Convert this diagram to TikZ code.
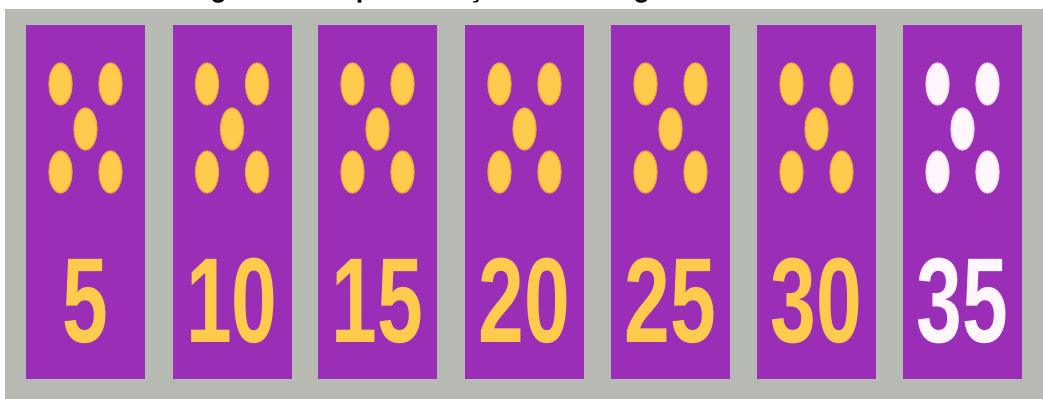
\documentclass[tikz,border=0pt]{standalone}
\usepackage{fontspec}
\setmainfont{Liberation Sans}
\usetikzlibrary{positioning,shapes.geometric}
\definecolor{Fundo}{HTML}{B7BAB3}
\definecolor{Roxo}{HTML}{9A2EB6}
\definecolor{Ouro}{HTML}{FFCB4C}
\definecolor{OuroBorda}{HTML}{F0A43E}
\definecolor{Neve}{HTML}{FFF7FB}
\definecolor{NeveBorda}{HTML}{E6D2EC}
\tikzset{
  cartao/.style={fill=Roxo, minimum width=29.75mm, minimum height=88.5mm, inner sep=0pt},
  ponto/.style={ellipse, line width=0.3mm, minimum width=5.75mm, minimum height=10.5mm, inner sep=0pt},
  numero/.style={font=\fontsize{86}{86}\selectfont\bfseries, inner sep=0pt},
  titulo/.style={font=\fontsize{19.2}{22}\selectfont\bfseries, inner sep=0pt},
}

\begin{document}
\begin{tikzpicture}[x=0.25mm, y=-0.25mm]
  \useasboundingbox (0,0) rectangle (1043,399);
  \clip (0,0) rectangle (1043,399);
  \fill[white] (0,0) rectangle (1043,399);
  \fill[Fundo] (5,9) rectangle (1043,399);
  % title, cut by the top edge
  \node[titulo, anchor=base] (titulo) at (503,-2.5) {Figura 6 – Representação da contagem de 5 em 5};
  % the seven cards
  \foreach \cx/\valor/\cor/\borda [count=\n] in {85.5/5/Ouro/OuroBorda, 232/10/Ouro/OuroBorda,
      377.5/15/Ouro/OuroBorda, 524.5/20/Ouro/OuroBorda, 670.5/25/Ouro/OuroBorda,
      816.5/30/Ouro/OuroBorda, 962.5/35/Neve/NeveBorda}{
    \node[cartao] (cartao\n) at (\cx,202) {};
    \node[ponto, fill=\cor, draw=\borda] (p\n a) at ({\cx-25},84) {};
    \node[ponto, fill=\cor, draw=\borda] (p\n b) at ({\cx+25},84) {};
    \node[ponto, fill=\cor, draw=\borda] (p\n c) at (\cx,129) {};
    \node[ponto, fill=\cor, draw=\borda] (p\n d) at ({\cx-25},172) {};
    \node[ponto, fill=\cor, draw=\borda] (p\n e) at ({\cx+25},172) {};
    \node[numero, text=\cor] (num\n) at (\cx,301) {\scalebox{.68}[1]{\valor}};
  }
\end{tikzpicture}
\end{document}
